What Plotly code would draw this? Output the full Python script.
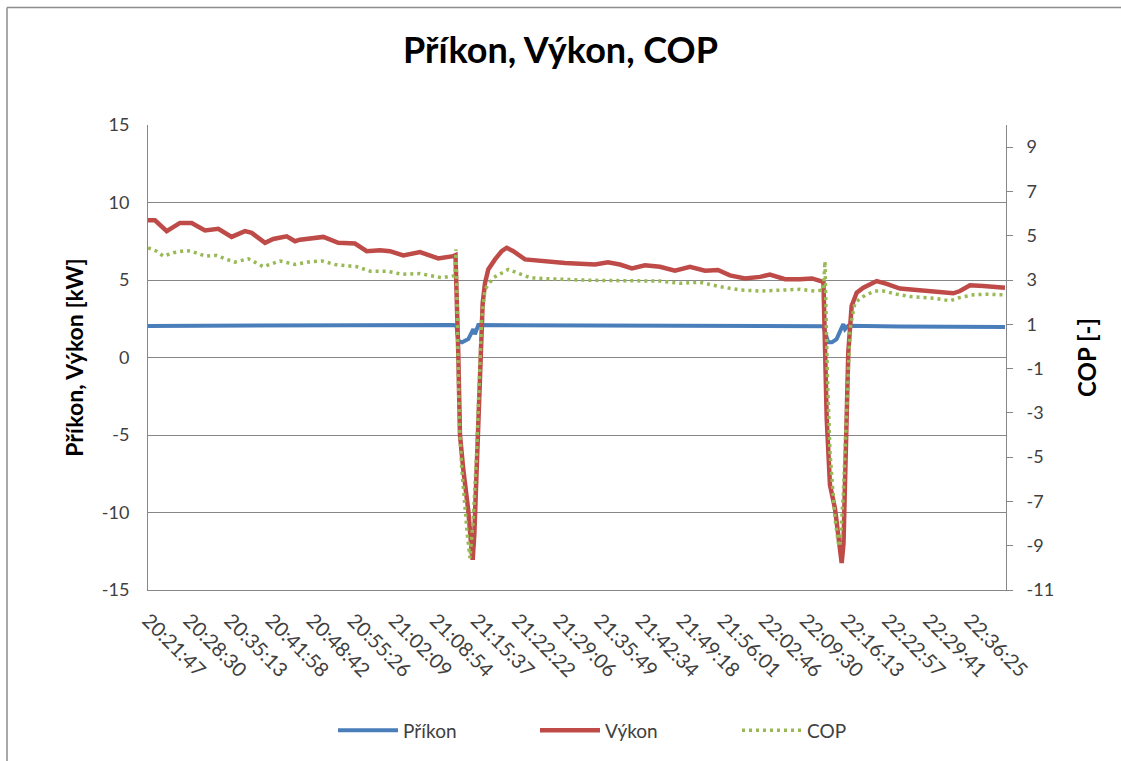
import pandas as pd
import plotly.graph_objects as go

DAY = "2000-01-01 "

# Tick labels on the category (time) axis
tick_labels = ["20:21:47", "20:28:30", "20:35:13", "20:41:58", "20:48:42", "20:55:26",
               "21:02:09", "21:08:54", "21:15:37", "21:22:22", "21:29:06", "21:35:49",
               "21:42:34", "21:49:18", "21:56:01", "22:02:46", "22:09:30", "22:16:13",
               "22:22:57", "22:29:41", "22:36:25"]
kw_ticks = [-15, -10, -5, 0, 5, 10, 15]
cop_ticks = [-11, -9, -7, -5, -3, -1, 1, 3, 5, 7, 9]

# Příkon – electrical input [kW]
prikon_time = ["20:21:47", "20:46:41", "21:11:47", "21:12:19", "21:12:36", "21:13:13",
               "21:14:15", "21:15:04", "21:15:20", "21:15:53", "21:35:49", "21:52:11",
               "22:12:23", "22:13:12", "22:13:48", "22:14:34", "22:15:40", "22:15:57",
               "22:16:29", "22:24:57", "22:42:09"]
prikon_kw = [2.04, 2.08, 2.10, 2.05, 1.08, 0.98,
             1.19, 1.83, 1.50, 2.09, 2.07, 2.05,
             2.02, 0.98, 0.98, 1.19, 2.15, 1.83,
             2.05, 2.00, 1.96]

# Výkon – heat output [kW]
vykon_time = ["20:21:47", "20:22:56", "20:24:51", "20:27:01", "20:28:56", "20:31:07",
              "20:33:18", "20:35:29", "20:37:40", "20:38:46", "20:40:57", "20:42:18",
              "20:44:30", "20:45:52", "20:46:41", "20:48:19", "20:50:30", "20:52:57",
              "20:55:41", "20:57:36", "20:59:47", "21:01:25", "21:03:36", "21:06:20",
              "21:09:20", "21:11:47", "21:12:09", "21:12:36", "21:12:53", "21:13:25",
              "21:14:15", "21:14:48", "21:14:58", "21:15:14", "21:15:30", "21:15:53",
              "21:16:16", "21:16:36", "21:16:59", "21:17:31", "21:18:37", "21:19:43",
              "21:20:32", "21:21:37", "21:23:32", "21:25:59", "21:27:37", "21:30:05",
              "21:32:32", "21:35:00", "21:37:07", "21:39:05", "21:41:03", "21:43:11",
              "21:45:38", "21:48:06", "21:50:33", "21:53:01", "21:55:08", "21:57:06",
              "21:59:34", "22:02:01", "22:03:39", "22:06:07", "22:08:34", "22:10:32",
              "22:11:51", "22:12:25", "22:12:57", "22:13:29", "22:14:18", "22:14:53",
              "22:15:24", "22:15:42", "22:15:57", "22:16:29", "22:17:02", "22:17:52",
              "22:18:57", "22:20:02", "22:21:08", "22:22:46", "22:24:57", "22:27:41",
              "22:30:24", "22:33:41", "22:34:47", "22:36:25", "22:38:36", "22:40:47",
              "22:42:09"]
vykon_kw = [8.85, 8.85, 8.15, 8.68, 8.68, 8.20,
            8.30, 7.78, 8.15, 8.04, 7.40, 7.65,
            7.82, 7.50, 7.60, 7.65, 7.78, 7.40,
            7.35, 6.86, 6.92, 6.86, 6.58, 6.80,
            6.39, 6.54, 6.60, 0.33, -5.00, -7.20,
            -9.90, -12.50, -13.05, -11.40, -8.20, -2.90,
            1.40, 3.50, 4.80, 5.68, 6.33, 6.86,
            7.08, 6.86, 6.33, 6.22, 6.15, 6.10,
            6.05, 6.00, 6.15, 6.00, 5.75, 5.95,
            5.85, 5.60, 5.85, 5.60, 5.65, 5.30,
            5.10, 5.20, 5.35, 5.05, 5.05, 5.10,
            4.95, 4.85, -3.95, -8.23, -9.73, -11.50,
            -13.26, -12.00, -8.20, 0.33, 3.33, 4.19,
            4.50, 4.72, 4.93, 4.75, 4.45, 4.36,
            4.29, 4.14, 4.29, 4.66, 4.61, 4.50,
            4.50]

# COP [-] on the secondary axis
cop_time = ["20:21:47", "20:23:12", "20:24:17", "20:25:56", "20:27:51", "20:28:56",
            "20:31:07", "20:33:02", "20:34:40", "20:36:02", "20:38:13", "20:40:40",
            "20:43:24", "20:45:52", "20:48:02", "20:50:14", "20:52:25", "20:55:58",
            "20:58:09", "21:00:53", "21:03:20", "21:06:20", "21:09:53", "21:11:47",
            "21:12:04", "21:12:14", "21:12:26", "21:12:46", "21:13:10", "21:13:42",
            "21:14:05", "21:14:31", "21:15:04", "21:15:37", "21:16:03", "21:16:26",
            "21:16:59", "21:18:20", "21:20:48", "21:22:10", "21:24:21", "21:27:05",
            "21:29:16", "21:32:32", "21:35:49", "21:39:05", "21:42:22", "21:45:38",
            "21:48:55", "21:52:11", "21:55:28", "21:58:45", "22:02:01", "22:05:18",
            "22:08:34", "22:11:01", "22:12:25", "22:12:40", "22:13:02", "22:13:29",
            "22:14:18", "22:14:51", "22:15:07", "22:15:40", "22:16:13", "22:16:46",
            "22:17:35", "22:19:14", "22:20:52", "22:22:13", "22:24:24", "22:26:35",
            "22:28:46", "22:30:57", "22:33:08", "22:34:47", "22:36:57", "22:39:09",
            "22:41:52"]
cop_val = [4.45, 4.30, 4.08, 4.23, 4.33, 4.30,
           4.08, 4.11, 3.93, 3.81, 3.96, 3.60,
           3.86, 3.70, 3.81, 3.86, 3.70, 3.60,
           3.40, 3.40, 3.26, 3.29, 3.10, 3.18,
           3.20, 4.38, 1.23, -3.26, -5.50, -7.45,
           -8.50, -9.56, -7.76, -4.76, -1.00, 1.23,
           2.58, 3.10, 3.48, 3.33, 3.10, 3.06,
           3.05, 3.00, 2.98, 2.98, 2.95, 2.95,
           2.85, 2.90, 2.70, 2.55, 2.50, 2.55,
           2.58, 2.50, 2.55, 3.85, -1.00, -4.76,
           -7.76, -8.88, -9.03, -6.70, -3.26, 0.78,
           1.98, 2.31, 2.50, 2.50, 2.36, 2.25,
           2.21, 2.16, 2.06, 2.21, 2.33, 2.36,
           2.33]

BLUE = "#4A7EBB"
RED = "#BE4B48"
GREEN = "#98B954"
GRID = "#878787"
TXT = "#404040"
FONT = "Lato"


def stamp(times):
    return pd.to_datetime([DAY + t for t in times])


fig = go.Figure()
fig.add_trace(go.Scatter(x=stamp(prikon_time), y=prikon_kw, name="Příkon", mode="lines",
                         line=dict(color=BLUE, width=4)))
fig.add_trace(go.Scatter(x=stamp(vykon_time), y=vykon_kw, name="Výkon", mode="lines",
                         line=dict(color=RED, width=4.5)))
fig.add_trace(go.Scatter(x=stamp(cop_time), y=cop_val, name="COP", mode="lines",
                         yaxis="y2", line=dict(color=GREEN, width=3.5, dash="3px,4px")))

fig.update_layout(
    width=1121, height=761,
    margin=dict(l=148, r=115, t=125, b=169),
    paper_bgcolor="white", plot_bgcolor="white",
    font=dict(family=FONT, color=TXT, size=18),
    title=dict(text="<b>Příkon, Výkon, COP</b>", x=0.5, xanchor="center",
               y=1 - 50 / 761, yanchor="middle",
               font=dict(family=FONT, size=36, color="black")),
    showlegend=True,
    legend=dict(orientation="h", x=(333 - 148) / 858, xanchor="left",
                y=-0.302, yanchor="middle",
                font=dict(family=FONT, size=19, color=TXT), entrywidth=127,
                itemwidth=60, bgcolor="rgba(0,0,0,0)"),
    xaxis=dict(type="date",
               range=[DAY + "20:21:47", DAY + "22:42:19"],
               tickmode="array", tickvals=stamp(tick_labels), ticktext=tick_labels,
               tickangle=45, showgrid=False, zeroline=False,
               showline=True, linecolor=GRID, linewidth=1, ticks="",
               ticklabelstandoff=10,
               tickfont=dict(family=FONT, size=20, color=TXT)),
    yaxis=dict(range=[-15, 15], tickmode="array", tickvals=kw_ticks,
               ticktext=[str(v) for v in kw_ticks],
               showgrid=True, gridcolor=GRID, gridwidth=1, zeroline=False,
               showline=True, linecolor=GRID, linewidth=1, ticks="",
               ticklabelstandoff=14,
               tickfont=dict(family=FONT, size=18, color=TXT),
               title=dict(text="<b>Příkon, Výkon [kW]</b>", standoff=11,
                          font=dict(family=FONT, size=23, color="black"))),
    yaxis2=dict(overlaying="y", side="right", range=[-11, 10], tickmode="array",
                tickvals=cop_ticks, ticktext=[str(v) for v in cop_ticks],
                showgrid=False, zeroline=False, showline=True, linecolor=GRID, linewidth=1,
                ticks="outside", ticklen=6, tickcolor=GRID,
                ticklabelstandoff=10,
                tickfont=dict(family=FONT, size=18, color=TXT),
                title=dict(text="<b>COP [-]</b>", standoff=26,
                           font=dict(family=FONT, size=24, color="black"))),
)

# chart frame (left and top edges)
frame = dict(type="line", xref="paper", yref="paper",
             line=dict(color="#8C8C8C", width=1.5), layer="below")
fig.add_shape(x0=(7 - 148) / 858, x1=(7 - 148) / 858, y0=(592 - 800) / 467,
              y1=(592 - 7) / 467, **frame)
fig.add_shape(x0=(7 - 148) / 858, x1=(1121 - 148) / 858, y0=(592 - 7) / 467,
              y1=(592 - 7) / 467, **frame)

fig.write_html("out.html")
